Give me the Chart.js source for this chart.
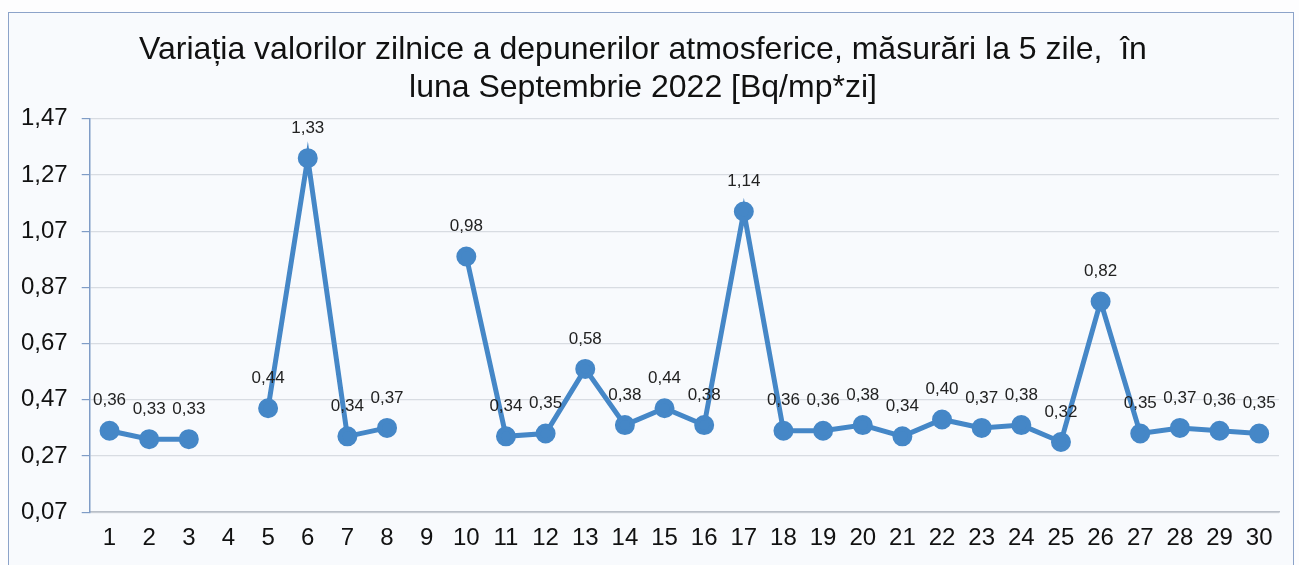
<!DOCTYPE html>
<html>
<head>
<meta charset="utf-8">
<script src="https://cdn.jsdelivr.net/npm/chart.js@4"></script>
<style>
  html, body { margin: 0; padding: 0; background: #fdfdfe; }
  #wrap { position: relative; width: 1299px; height: 565px; overflow: hidden; }
  #frame { position: absolute; left: 8px; top: 12px; width: 1284px; height: 600px;
           border: 1.5px solid #8ca3c9; background: #f8fafd; }
  canvas { position: absolute; left: 0; top: 0; }
</style>
</head>
<body>
<div id="wrap">
  <div id="frame"></div>
  <canvas id="chart" width="1299" height="565"></canvas>
</div>
<script>
// days of September 2022 (4 and 9 have no measurement)
const days = ["1","2","3","4","5","6","7","8","9","10","11","12","13","14","15",
              "16","17","18","19","20","21","22","23","24","25","26","27","28","29","30"];
const values = [0.36, 0.33, 0.33, null, 0.44, 1.33, 0.34, 0.37, null, 0.98,
                0.34, 0.35, 0.58, 0.38, 0.44, 0.38, 1.14, 0.36, 0.36, 0.38,
                0.34, 0.40, 0.37, 0.38, 0.32, 0.82, 0.35, 0.37, 0.36, 0.35];
const yTicks = [0.07, 0.27, 0.47, 0.67, 0.87, 1.07, 1.27, 1.47];

const fmt = v => v.toFixed(2).replace(".", ",");

// value labels above each point
const pointLabels = {
    id: "pointLabels",
    afterDatasetsDraw(chart) {
        const ctx = chart.ctx;
        const meta = chart.getDatasetMeta(0);
        ctx.save();
        ctx.font = "17px 'Liberation Sans', Arial, sans-serif";
        ctx.fillStyle = "#222";
        ctx.textAlign = "center";
        ctx.textBaseline = "middle";
        meta.data.forEach((pt, i) => {
            const v = values[i];
            if (v === null) return;
            ctx.fillText(fmt(v), pt.x, pt.y - 30);
        });
        ctx.restore();
    }
};

new Chart(document.getElementById("chart").getContext("2d"), {
    type: "line",
    data: {
        labels: days,
        datasets: [{
            data: values,
            borderColor: "#4587c7",
            backgroundColor: "#4587c7",
            borderWidth: 5,
            pointRadius: 7.5,
            pointHoverRadius: 7.5,
            spanGaps: false,
            tension: 0,
        }],
    },
    options: {
        responsive: false,
        animation: false,
        layout: { padding: { left: 7, right: 20, top: 31, bottom: 0 } },
        plugins: {
            legend: { display: false },
            tooltip: { enabled: false },
            title: {
                display: true,
                text: ["Variația valorilor zilnice a depunerilor atmosferice, măsurări la 5 zile,  în",
                       "luna Septembrie 2022 [Bq/mp*zi]"],
                color: "#111",
                font: { family: "'Liberation Sans', Arial, sans-serif", size: 32, weight: "normal", lineHeight: 1.2 },
                padding: { top: 0, bottom: 11 },
            },
        },
        scales: {
            x: {
                offset: true,
                grid: { display: false, drawTicks: false },
                border: { color: "#b9bfc8", width: 1.5 },
                ticks: {
                    color: "#111",
                    padding: 12,
                    maxRotation: 0,
                    autoSkip: false,
                    font: { family: "'Liberation Sans', Arial, sans-serif", size: 24 },
                },
            },
            y: {
                min: 0.07,
                max: 1.47,
                afterBuildTicks: axis => { axis.ticks = yTicks.map(v => ({ value: v })); },
                grid: { color: "#d8dce2", lineWidth: 1.2, tickLength: 8, tickColor: "#7f9cc6" },
                border: { color: "#7f9cc6", width: 1.5 },
                ticks: {
                    color: "#111",
                    padding: 14,
                    callback: v => fmt(v),
                    font: { family: "'Liberation Sans', Arial, sans-serif", size: 24 },
                },
            },
        },
    },
    plugins: [pointLabels],
});
</script>
</body>
</html>
